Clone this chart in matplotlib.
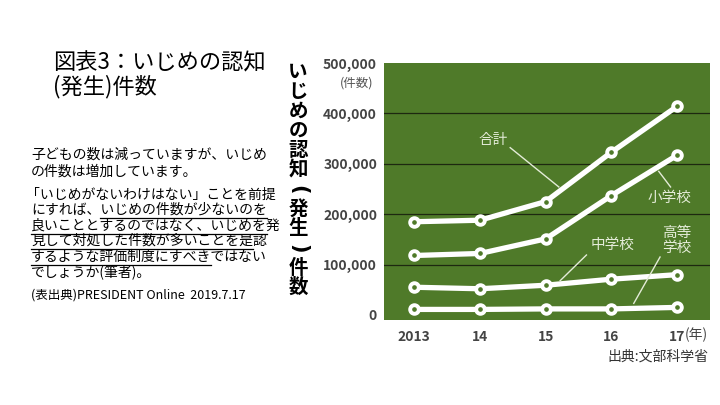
import numpy as np
import matplotlib
matplotlib.use("Agg")
import matplotlib.pyplot as plt

plt.rcParams["font.family"] = ["Noto Sans CJK JP", "DejaVu Sans"]

# データ
years = [2013, 2014, 2015, 2016, 2017]
year_labels = ["2013", "14", "15", "16", "17"]
total = [185000, 188000, 225000, 323000, 414000]
elementary = [118000, 122000, 151000, 237000, 317000]
junior = [55000, 52000, 59000, 71000, 80000]
high = [11000, 11000, 12000, 12000, 15000]
yticks = [0, 100000, 200000, 300000, 400000, 500000]

GREEN = "#4f7a29"
LABEL_C = "#e4ecd8"
TICK_C = "#444444"

fig = plt.figure(figsize=(7.2, 4.05), dpi=100)
fig.patch.set_facecolor("white")
ax = fig.add_axes([384 / 720, 1 - 320 / 405, 326 / 720, 257 / 405])
ax.set_facecolor(GREEN)
for s in ax.spines.values():
    s.set_visible(False)
ax.set_xlim(2012.54, 2017.5)
ax.set_ylim(-10000, 500000)

for g in yticks[1:-1]:
    ax.axhline(g, color="#1d2810", lw=0.9, zorder=1)

for series in [total, elementary, junior, high]:
    ax.plot(years, series, "-", color="white", lw=3.8, zorder=3,
            solid_capstyle="round")
    ax.plot(years, series, "o", ms=6.2, mfc=GREEN, mec="white", mew=2.8,
            zorder=4)

ax.set_yticks(yticks)
ax.set_yticklabels([f"{v:,}" for v in yticks])
ax.set_xticks(years)
ax.set_xticklabels(year_labels)
ax.tick_params(length=0, labelsize=10, colors=TICK_C)
ax.tick_params(axis="y", pad=5)
ax.tick_params(axis="x", pad=7)
for t in ax.get_xticklabels() + ax.get_yticklabels():
    t.set_fontweight("bold")

# 系列ラベルと引き出し線
labels = [
    ("合計", 2014.2, 348000, (2014.46, 332000), (2015.2, 254000)),
    ("小学校", 2016.89, 232000, (2016.72, 285000), (2016.9, 254000)),
    ("中学校", 2016.01, 138000, (2015.62, 119000), (2015.22, 68000)),
    ("高等\n学校", 2017.0, 148000, (2016.74, 115000), (2016.34, 23000)),
]
for txt, tx, ty, p0, p1 in labels:
    ax.text(tx, ty, txt, color=LABEL_C, fontsize=10.5, ha="center",
            va="center", linespacing=1.05, zorder=5)
    ax.plot([p0[0], p1[0]], [p0[1], p1[1]], color=LABEL_C, lw=1.0, zorder=5)

ax.annotate("(年)", xy=(2017.12, -0.058), xycoords=("data", "axes fraction"),
            ha="left", va="center", fontsize=10, color=TICK_C,
            annotation_clip=False)
fig.text(357 / 720, 1 - 83 / 405, "(件数)", ha="center", va="center",
         fontsize=9, color="#555555")
fig.text(708 / 720, 1 - 357 / 405, "出典:文部科学省", ha="right", va="center",
         fontsize=10, color="#333333")

# 縦書きタイトル (括弧は回転)
vchars = ["い", "じ", "め", "の", "認", "知", "(", "発", "生", ")", "件", "数"]
for i, ch in enumerate(vchars):
    yy = 1 - (72 + i * 19.6) / 405
    if ch in "()":
        fig.text(298 / 720, yy, ch, ha="center", va="center", fontsize=15,
                 fontweight="bold", color="black", rotation=-90,
                 family="DejaVu Sans")
    else:
        fig.text(298 / 720, yy, ch, ha="center", va="center", fontsize=14,
                 fontweight="bold", color="black")

# 左側のテキスト
fig.text(53 / 720, 1 - 63 / 405, "図表3：いじめの認知", ha="left",
         va="center", fontsize=16, color="black")
fig.text(53 / 720, 1 - 87 / 405, "(発生)件数", ha="left", va="center",
         fontsize=16, color="black")

body = [
    (155, "子どもの数は減っていますが、いじめ", None),
    (172, "の件数は増加しています。", None),
    (195, "「いじめがないわけはない」ことを前提", None),
    (210, "にすれば、いじめの件数が少ないのを", (5, 17)),
    (226, "良いこととするのではなく、いじめを発", (0, 17)),
    (241, "見して対処した件数が多いことを是認", (0, 16)),
    (257, "するような評価制度にすべきではない", (0, 13)),
    (272, "でしょうか(筆者)。", None),
]
x0 = 31
renderer = fig.canvas.get_renderer()


def width(s):
    if not s:
        return 0.0
    tmp = fig.text(0, 0, s, fontsize=10)
    w = tmp.get_window_extent(renderer).width
    tmp.remove()
    return w


for ypx, line, ul in body:
    xs = x0 - 5 if line.startswith("「") else x0
    fig.text(xs / 720, 1 - ypx / 405, line, ha="left", va="center",
             fontsize=10, color="black")
    if ul is not None:
        a, b = ul
        xa = x0 + width(line[:a])
        xb = x0 + width(line[:b])
        yu = 1 - (ypx + 8) / 405
        fig.add_artist(plt.Line2D([xa / 720, xb / 720], [yu, yu],
                                  color="black", lw=0.9))

fig.text(x0 / 720, 1 - 295 / 405, "(表出典)PRESIDENT Online  2019.7.17",
         ha="left", va="center", fontsize=9, color="black")

fig.savefig("out.png", dpi=100)
